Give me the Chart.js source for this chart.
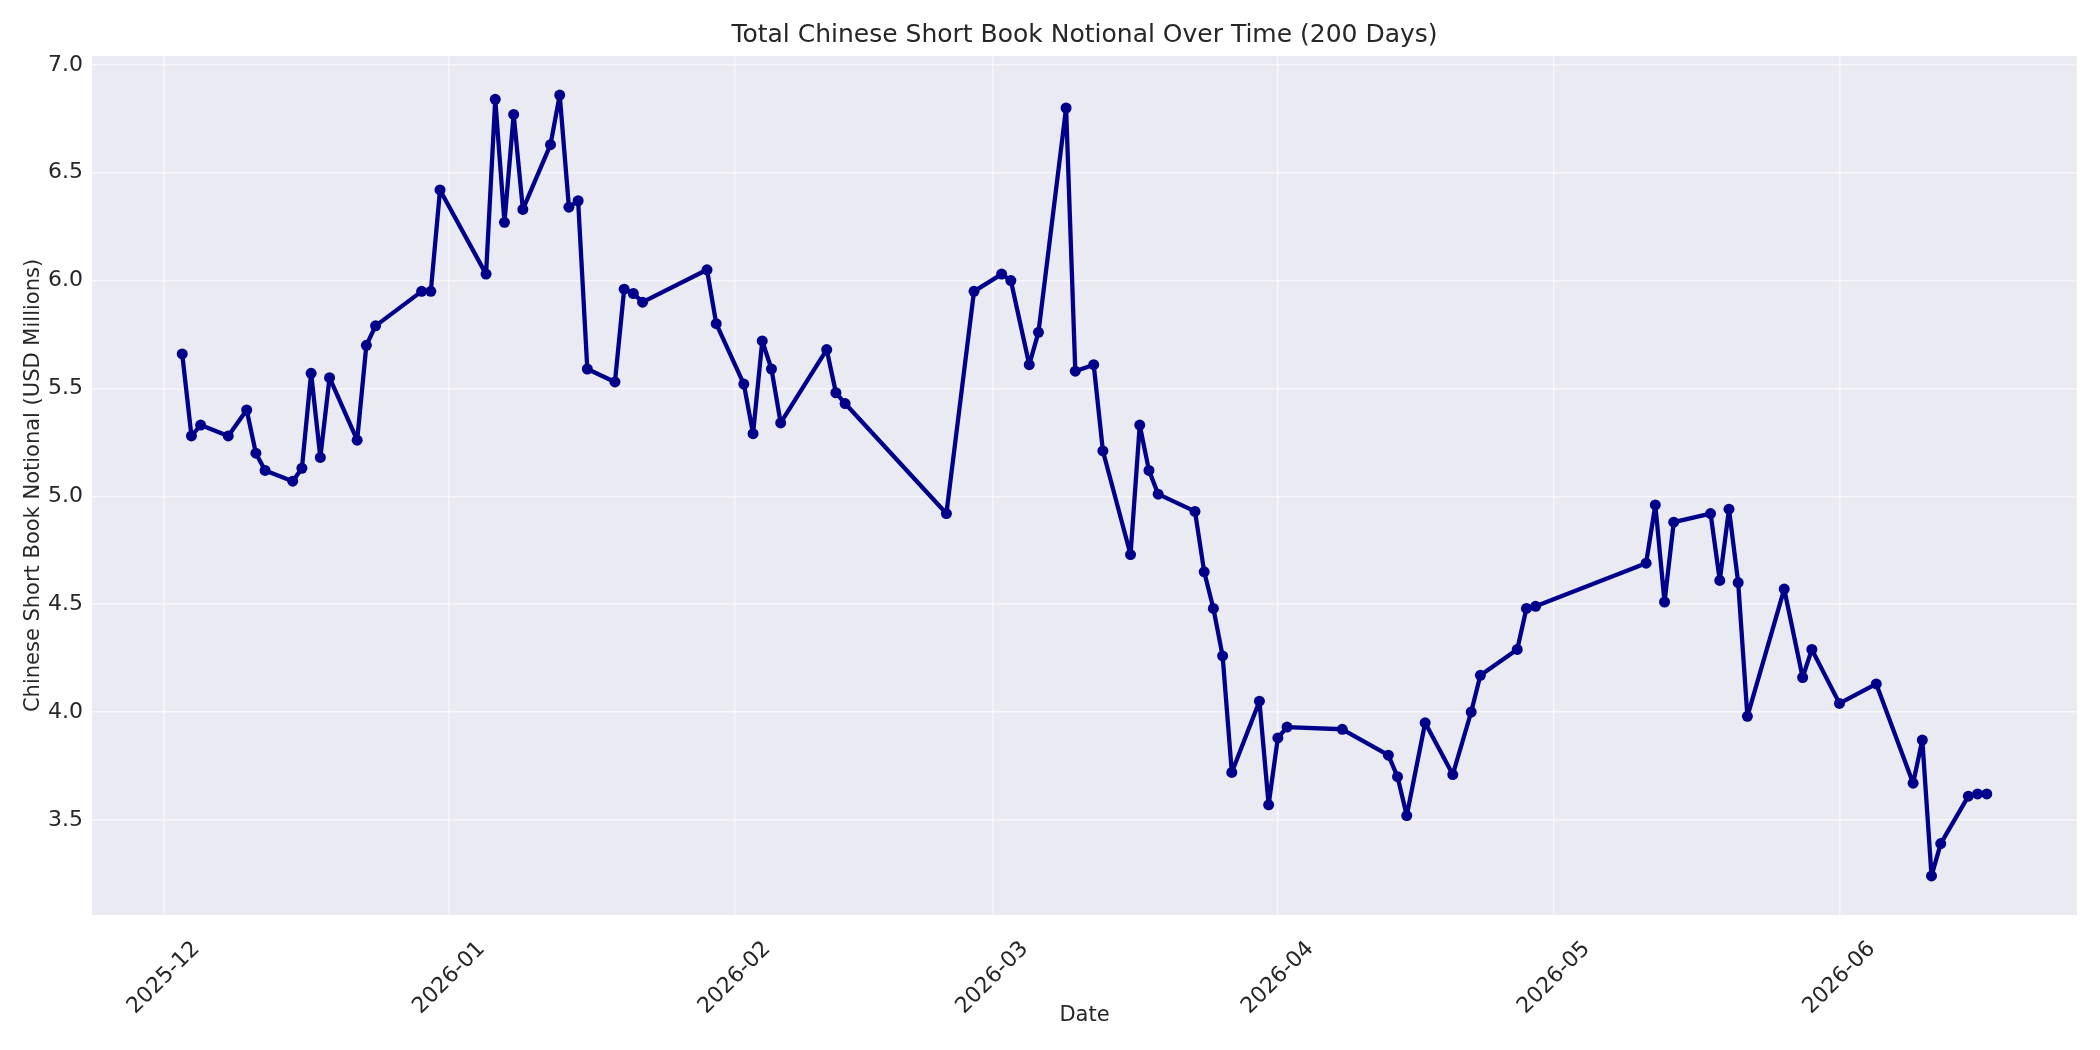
<!DOCTYPE html>
<html>
<head>
<meta charset="utf-8">
<title>Total Chinese Short Book Notional Over Time</title>
<script src="https://cdn.jsdelivr.net/npm/chart.js@4/dist/chart.umd.min.js"></script>
<style>
  html, body { margin: 0; padding: 0; background: #ffffff; }
  #wrap { width: 2100px; height: 1050px; position: relative; }
</style>
</head>
<body>
<div id="wrap"><canvas id="notionalChart"></canvas></div>
<script>
// ---- data ----
const dates = [
  '2025-12-03', '2025-12-04', '2025-12-05', '2025-12-08', '2025-12-10', '2025-12-11', '2025-12-12',
  '2025-12-15', '2025-12-16', '2025-12-17', '2025-12-18', '2025-12-19', '2025-12-22', '2025-12-23',
  '2025-12-24', '2025-12-29', '2025-12-30', '2025-12-31', '2026-01-05', '2026-01-06', '2026-01-07',
  '2026-01-08', '2026-01-09', '2026-01-12', '2026-01-13', '2026-01-14', '2026-01-15', '2026-01-16',
  '2026-01-19', '2026-01-20', '2026-01-21', '2026-01-22', '2026-01-29', '2026-01-30', '2026-02-02',
  '2026-02-03', '2026-02-04', '2026-02-05', '2026-02-06', '2026-02-11', '2026-02-12', '2026-02-13',
  '2026-02-24', '2026-02-27', '2026-03-02', '2026-03-03', '2026-03-05', '2026-03-06', '2026-03-09',
  '2026-03-10', '2026-03-12', '2026-03-13', '2026-03-16', '2026-03-17', '2026-03-18', '2026-03-19',
  '2026-03-23', '2026-03-24', '2026-03-25', '2026-03-26', '2026-03-27', '2026-03-30', '2026-03-31',
  '2026-04-01', '2026-04-02', '2026-04-08', '2026-04-13', '2026-04-14', '2026-04-15', '2026-04-17',
  '2026-04-20', '2026-04-22', '2026-04-23', '2026-04-27', '2026-04-28', '2026-04-29', '2026-05-11',
  '2026-05-12', '2026-05-13', '2026-05-14', '2026-05-18', '2026-05-19', '2026-05-20', '2026-05-21',
  '2026-05-22', '2026-05-26', '2026-05-28', '2026-05-29', '2026-06-01', '2026-06-05', '2026-06-09',
  '2026-06-10', '2026-06-11', '2026-06-12', '2026-06-15', '2026-06-16', '2026-06-17'
];
const notional = [
  5.66, 5.28, 5.33, 5.28, 5.40, 5.20, 5.12,
  5.07, 5.13, 5.57, 5.18, 5.55, 5.26, 5.70,
  5.79, 5.95, 5.95, 6.42, 6.03, 6.84, 6.27,
  6.77, 6.33, 6.63, 6.86, 6.34, 6.37, 5.59,
  5.53, 5.96, 5.94, 5.90, 6.05, 5.80, 5.52,
  5.29, 5.72, 5.59, 5.34, 5.68, 5.48, 5.43,
  4.92, 5.95, 6.03, 6.00, 5.61, 5.76, 6.80,
  5.58, 5.61, 5.21, 4.73, 5.33, 5.12, 5.01,
  4.93, 4.65, 4.48, 4.26, 3.72, 4.05, 3.57,
  3.88, 3.93, 3.92, 3.80, 3.70, 3.52, 3.95,
  3.71, 4.00, 4.17, 4.29, 4.48, 4.49, 4.69,
  4.96, 4.51, 4.88, 4.92, 4.61, 4.94, 4.60,
  3.98, 4.57, 4.16, 4.29, 4.04, 4.13, 3.67,
  3.87, 3.24, 3.39, 3.61, 3.62, 3.62
];
const monthTicks = ['2025-12', '2026-01', '2026-02', '2026-03', '2026-04', '2026-05', '2026-06'];
const yTicks = [3.5, 4.0, 4.5, 5.0, 5.5, 6.0, 6.5, 7.0];
const titleText = 'Total Chinese Short Book Notional Over Time (200 Days)';

// x is days since the first month tick
const ORIGIN = Date.parse(monthTicks[0] + '-01');
function dayOf(str) { return Math.round((Date.parse(str) - ORIGIN) / 864e5); }

const points = dates.map((d, i) => ({ x: dayOf(d), y: notional[i] }));
const monthPos = monthTicks.map(m => dayOf(m + '-01'));

// matplotlib-style 5% margins
const xs = points.map(p => p.x), ys = points.map(p => p.y);
const xMin = Math.min(...xs), xMax = Math.max(...xs);
const yMin = Math.min(...ys), yMax = Math.max(...ys);
const xPad = (xMax - xMin) * 0.05, yPad = (yMax - yMin) * 0.05;

const TEXT = '#262626';
const FONT = 'DejaVu Sans';

// plot background like seaborn darkgrid + title centred on the plot area
const plotBg = {
  id: 'plotBg',
  beforeDraw(chart) {
    const { ctx, chartArea: a } = chart;
    ctx.save();
    ctx.fillStyle = '#eaeaf2';
    ctx.fillRect(a.left, a.top, a.right - a.left, a.bottom - a.top);
    ctx.fillStyle = TEXT;
    ctx.font = '25px "' + FONT + '"';
    ctx.textAlign = 'center';
    ctx.textBaseline = 'middle';
    ctx.fillText(titleText, (a.left + a.right) / 2, 35);
    ctx.restore();
  }
};

// rotated month labels centred on their ticks
const monthLabels = {
  id: 'monthLabels',
  afterDraw(chart) {
    const { ctx } = chart;
    const sx = chart.scales.x;
    ctx.save();
    ctx.fillStyle = TEXT;
    ctx.font = '22px "' + FONT + '"';
    ctx.textAlign = 'center';
    ctx.textBaseline = 'middle';
    monthTicks.forEach((label, i) => {
      const px = sx.getPixelForValue(monthPos[i]);
      ctx.save();
      ctx.translate(px, chart.chartArea.bottom + 63);
      ctx.rotate(-Math.PI / 4);
      ctx.fillText(label, 0, 0);
      ctx.restore();
    });
    ctx.restore();
  }
};

new Chart(document.getElementById('notionalChart'), {
  type: 'line',
  data: {
    datasets: [{
      label: 'Chinese Short Book Notional',
      data: points,
      borderColor: '#00008b',
      backgroundColor: '#00008b',
      borderWidth: 4.3,
      borderJoinStyle: 'round',
      borderCapStyle: 'round',
      pointRadius: 5.5,
      pointBorderWidth: 0,
      pointHoverRadius: 5.5,
      tension: 0,
      fill: false
    }]
  },
  options: {
    responsive: true,
    maintainAspectRatio: false,
    animation: false,
    layout: { padding: { left: 0, right: 23, top: 56, bottom: 0 } },
    plugins: {
      legend: { display: false },
      tooltip: { enabled: false },
      title: { display: false }
    },
    scales: {
      x: {
        type: 'linear',
        min: xMin - xPad,
        max: xMax + xPad,
        afterBuildTicks: s => { s.ticks = monthPos.map(v => ({ value: v })); },
        afterFit: s => { s.height = 135; },
        grid: { color: 'rgba(255,255,255,0.6)', lineWidth: 1.5, drawTicks: false },
        border: { display: false },
        ticks: { display: false },
        title: {
          display: true,
          text: 'Date',
          color: TEXT,
          font: { family: FONT, size: 21 },
          padding: { top: 0, bottom: 22 }
        }
      },
      y: {
        min: yMin - yPad,
        max: yMax + yPad,
        afterBuildTicks: s => { s.ticks = yTicks.map(v => ({ value: v })); },
        afterFit: s => { s.width = 92; },
        grid: { color: 'rgba(255,255,255,0.6)', lineWidth: 1.5, drawTicks: false },
        border: { display: false },
        ticks: {
          color: TEXT,
          padding: 9,
          font: { family: FONT, size: 22 },
          callback: v => v.toFixed(1)
        },
        title: {
          display: true,
          text: 'Chinese Short Book Notional (USD Millions)',
          color: TEXT,
          font: { family: FONT, size: 21 },
          padding: { top: 21, bottom: 0 }
        }
      }
    }
  },
  plugins: [plotBg, monthLabels]
});
</script>
</body>
</html>
